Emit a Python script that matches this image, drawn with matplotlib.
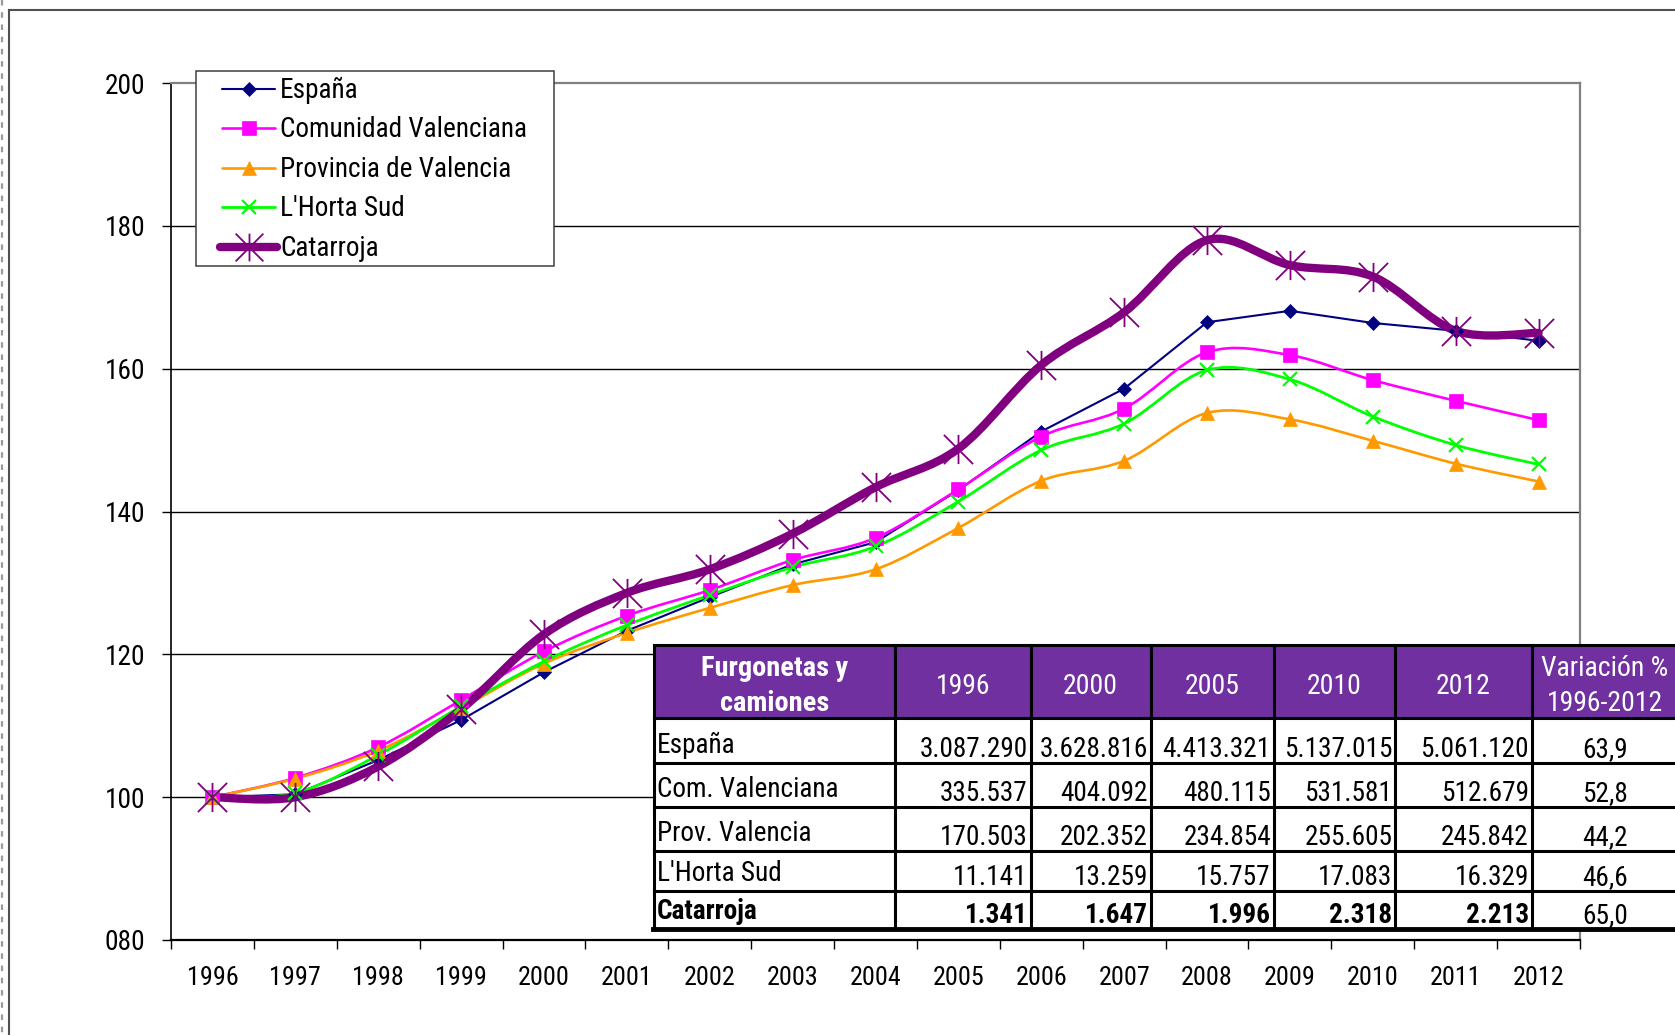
import numpy as np
import matplotlib.pyplot as plt
from matplotlib import font_manager
from matplotlib.path import Path
from matplotlib.patches import PathPatch, Rectangle

# the original uses a narrow Arial; take a condensed face if one is installed
installed = {f.name for f in font_manager.fontManager.ttflist}
FONT, FS = 'Liberation Sans', 1.0
for name, scale in [('Liberation Sans Narrow', 1.2), ('Arial Narrow', 1.2),
                    ('Roboto Condensed', 1.12), ('Open Sans Condensed', 1.1)]:
    if name in installed:
        FONT, FS = name, scale
        break
plt.rcParams['font.family'] = [FONT, 'Liberation Sans', 'DejaVu Sans']

years = [str(y) for y in range(1996, 2013)]

espana = [100, 100.4, 105.2, 110.8, 117.5, 123.3, 128.0, 132.6, 135.7, 143.0,
          151.2, 157.2, 166.5, 168.1, 166.4, 165.3, 163.9]
com_val = [100, 102.7, 107.0, 113.6, 120.4, 125.4, 129.0, 133.2, 136.3, 143.1,
           150.5, 154.4, 162.3, 161.9, 158.4, 155.5, 152.8]
prov_val = [100, 102.6, 106.5, 112.5, 118.7, 123.0, 126.5, 129.7, 131.9, 137.7,
            144.3, 147.1, 153.8, 152.9, 149.9, 146.7, 144.2]
horta_sud = [100, 100.6, 105.9, 112.7, 119.0, 124.1, 128.3, 132.2, 135.1, 141.4,
             148.6, 152.3, 159.8, 158.5, 153.3, 149.3, 146.6]
catarroja = [100, 100.0, 104.3, 112.3, 122.8, 128.6, 131.9, 136.9, 143.4, 148.8,
             160.5, 167.9, 178.0, 174.5, 172.9, 165.3, 165.0]

series_names = ['España', 'Comunidad Valenciana', 'Provincia de Valencia',
                "L'Horta Sud", 'Catarroja']

# table
tbl_header = ['Furgonetas y\ncamiones', '1996', '2000', '2005', '2010', '2012',
              'Variación %\n1996-2012']
tbl_rows = ['España', 'Com. Valenciana', 'Prov. Valencia', "L'Horta Sud", 'Catarroja']
tbl_values = [
    ['3.087.290', '3.628.816', '4.413.321', '5.137.015', '5.061.120'],
    ['335.537', '404.092', '480.115', '531.581', '512.679'],
    ['170.503', '202.352', '234.854', '255.605', '245.842'],
    ['11.141', '13.259', '15.757', '17.083', '16.329'],
    ['1.341', '1.647', '1.996', '2.318', '2.213'],
]
tbl_variation = ['63,9', '52,8', '44,2', '46,6', '65,0']

# star marker like excel's "*"
star = Path([(0, -1), (0, 1), (-1, -1), (1, 1), (-1, 1), (1, -1)],
            [Path.MOVETO, Path.LINETO] * 3)

styles = [
    dict(color='#000080', lw=1.5, marker='D', ms=7.5, mew=0.5, smooth=False),
    dict(color='#FF00FF', lw=1.9, marker='s', ms=10.5, mew=0.5, smooth=True),
    dict(color='#FF9900', lw=1.9, marker='^', ms=10.5, mew=0.5, smooth=True),
    dict(color='#00FF00', lw=2.0, marker='x', ms=10, mew=1.6, smooth=True),
    dict(color='#800080', lw=6.0, marker=star, ms=21, mew=1.3, smooth=True),
]


def smooth_path(x, y):
    # cubic bezier through the points (same kind of smoothing as excel)
    n = len(x)
    verts = [(x[0], y[0])]
    codes = [Path.MOVETO]
    for i in range(n - 1):
        a = max(i - 1, 0)
        b = min(i + 2, n - 1)
        c1 = (x[i] + (x[i + 1] - x[a]) / 6, y[i] + (y[i + 1] - y[a]) / 6)
        c2 = (x[i + 1] - (x[b] - x[i]) / 6, y[i + 1] - (y[b] - y[i]) / 6)
        verts += [c1, c2, (x[i + 1], y[i + 1])]
        codes += [Path.CURVE4] * 3
    return Path(verts, codes)


W, H = 1675, 1035
fig = plt.figure(figsize=(W / 100, H / 100), dpi=100)
ax = fig.add_axes([171 / W, 1 - 940 / H, (1580 - 171) / W, (940 - 83) / H])

xs = np.arange(len(years))
for data, st in zip([espana, com_val, prov_val, horta_sud, catarroja], styles):
    if st['smooth']:
        ax.add_patch(PathPatch(smooth_path(xs, data), fill=False, edgecolor=st['color'],
                               lw=st['lw'], capstyle='round', joinstyle='round', zorder=3))
    else:
        ax.plot(xs, data, color=st['color'], lw=st['lw'], zorder=3)
    ax.plot(xs, data, linestyle='none', marker=st['marker'], ms=st['ms'],
            mfc=st['color'], mec=st['color'], mew=st['mew'], zorder=4)

ax.set_xlim(-0.5, len(years) - 0.5)
ax.set_ylim(80, 200)
ax.set_yticks(range(80, 201, 20))
ax.set_yticklabels([f'{v:03d}' for v in range(80, 201, 20)])
ax.set_xticks(xs)
ax.set_xticklabels(years)
ax.set_xticks(np.arange(-0.5, len(years)), minor=True)
ax.tick_params(axis='x', which='major', length=0, pad=19, labelsize=16.8 * FS)
ax.tick_params(axis='x', which='minor', length=6.5, width=1.0, direction='out')
ax.tick_params(axis='y', length=6.5, width=1.0, pad=12, labelsize=17.6 * FS)

ax.yaxis.grid(True, color='black', lw=1.0)
ax.set_axisbelow(True)
ax.yaxis.get_gridlines()[-1].set_visible(False)
for s in ['top', 'right']:
    ax.spines[s].set_color('#808080')
    ax.spines[s].set_linewidth(1.6)
ax.spines['left'].set_linewidth(1.2)
ax.spines['bottom'].set_linewidth(1.6)

# overlay in pixel coordinates: frame, legend, table
ov = fig.add_axes([0, 0, 1, 1], zorder=5)
ov.set_xlim(0, W)
ov.set_ylim(H, 0)
ov.axis('off')
ov.patch.set_alpha(0)

ov.plot([9, W], [10, 10], color='#505050', lw=1.5)
ov.plot([9, 9], [10, H], color='#505050', lw=1.5)
ov.plot([1.5, 1.5], [0, H], color='#9a9a9a', lw=1.6, dashes=(2.5, 3))

# legend
ov.add_patch(Rectangle((196, 70.5), 358, 195.5, facecolor='white', edgecolor='#404040', lw=1.1))
leg_y = [89.3, 128.3, 167.7, 206.7, 246.7]
for name, st, yy in zip(series_names, styles, leg_y):
    x0, x1 = (219.5, 276.5) if st['lw'] > 3 else (222, 275)
    ov.plot([x0, x1], [yy, yy], color=st['color'], lw=st['lw'], solid_capstyle='round')
    ov.plot([(222 + 275) / 2], [yy], linestyle='none', marker=st['marker'], ms=st['ms'] * 0.95,
            mfc=st['color'], mec=st['color'], mew=st['mew'])
    ov.text(280, yy + 9, name, fontsize=17.5 * FS, va='baseline', ha='left')

# table
col_x = [654, 894.7, 1030.6, 1150.7, 1273.9, 1395.4, 1531.7, 1678]
row_y = [645, 718.3, 762.7, 806.7, 851, 890.7, 929]
ov.add_patch(Rectangle((col_x[0], row_y[0]), col_x[-1] - col_x[0], row_y[-1] - row_y[0],
                       facecolor='white', edgecolor='none'))
ov.add_patch(Rectangle((col_x[0], row_y[0]), col_x[-1] - col_x[0], row_y[1] - row_y[0],
                       facecolor='#7030A0', edgecolor='none'))
for cx in col_x:
    ov.plot([cx, cx], [row_y[0], row_y[-1]], color='black', lw=2.2)
for ry in row_y[:-1]:
    ov.plot([col_x[0], col_x[-1]], [ry, ry], color='black', lw=2.2)
ov.plot([col_x[0] - 1, col_x[-1]], [row_y[-1], row_y[-1]], color='black', lw=3.5)

tfs = 17.5 * FS
for j, h in enumerate(tbl_header):
    cx = (col_x[j] + col_x[j + 1]) / 2
    ov.text(cx, 686, h, color='white', fontsize=tfs + (0.8 if j == 0 else 0.4),
            ha='center', va='center', multialignment='center', linespacing=1.38,
            fontweight='bold' if j == 0 else 'normal')

for i, (lab, vals, var) in enumerate(zip(tbl_rows, tbl_values, tbl_variation)):
    bottom = row_y[i + 2]
    bold = 'bold' if lab == 'Catarroja' else 'normal'
    ov.text(col_x[0] + 3, bottom - 10, lab, fontsize=tfs, ha='left', va='baseline',
            fontweight=bold)
    for j, v in enumerate(vals):
        ov.text(col_x[j + 2] - 3, bottom - 6, v, fontsize=tfs, ha='right',
                va='baseline', fontweight=bold)
    ov.text(1605, bottom - 6, var, fontsize=tfs, ha='center', va='baseline')

fig.savefig('out.png', dpi=100)
